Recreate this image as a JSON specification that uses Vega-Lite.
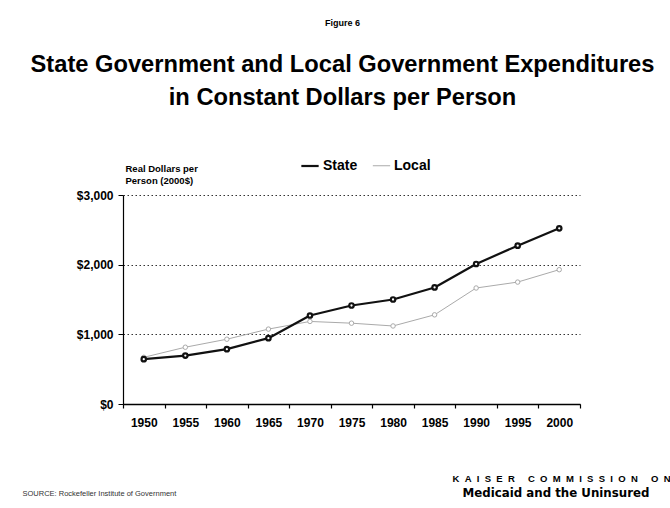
{
  "$schema": "https://vega.github.io/schema/vega-lite/v6.json",
  "width": 457,
  "height": 209,
  "autosize": "none",
  "padding": {"left": 123, "top": 195, "right": 90, "bottom": 104},
  "background": "white",
  "config": {"font": "Liberation Sans", "view": {"stroke": null}},
  "title": {
    "text": "Figure 6",
    "subtitle": ["State Government and Local Government Expenditures", "in Constant Dollars per Person"],
    "fontSize": 9,
    "fontWeight": "bold",
    "color": "black",
    "subtitleFontSize": 23.7,
    "subtitleFontWeight": "bold",
    "subtitleColor": "black",
    "subtitleLineHeight": 33,
    "subtitlePadding": 25,
    "anchor": "middle",
    "dx": -9,
    "offset": 46
  },
  "data": {
    "values": [
      {"year": 1950, "series": "Local", "value": 670},
      {"year": 1955, "series": "Local", "value": 815},
      {"year": 1960, "series": "Local", "value": 930},
      {"year": 1965, "series": "Local", "value": 1075},
      {"year": 1970, "series": "Local", "value": 1185},
      {"year": 1975, "series": "Local", "value": 1160},
      {"year": 1980, "series": "Local", "value": 1120},
      {"year": 1985, "series": "Local", "value": 1280},
      {"year": 1990, "series": "Local", "value": 1665},
      {"year": 1995, "series": "Local", "value": 1750},
      {"year": 2000, "series": "Local", "value": 1928},
      {"year": 1950, "series": "State", "value": 643},
      {"year": 1955, "series": "State", "value": 695},
      {"year": 1960, "series": "State", "value": 787},
      {"year": 1965, "series": "State", "value": 945},
      {"year": 1970, "series": "State", "value": 1270},
      {"year": 1975, "series": "State", "value": 1414},
      {"year": 1980, "series": "State", "value": 1500},
      {"year": 1985, "series": "State", "value": 1673},
      {"year": 1990, "series": "State", "value": 2010},
      {"year": 1995, "series": "State", "value": 2273},
      {"year": 2000, "series": "State", "value": 2522}
    ]
  },
  "layer": [
    {
      "mark": {"type": "line", "strokeJoin": "round", "point": {"filled": false, "fill": "white", "size": 20, "strokeWidth": 1.2}},
      "encoding": {
        "x": {
          "field": "year", "type": "quantitative",
          "scale": {"domain": [1947.5, 2002.5], "nice": false, "zero": false},
          "axis": {
            "orient": "bottom",
            "values": [1950, 1955, 1960, 1965, 1970, 1975, 1980, 1985, 1990, 1995, 2000],
            "format": "d", "ticks": false, "grid": false,
            "domain": true, "domainColor": "black", "domainWidth": 1.5,
            "labelFontSize": 12, "labelFontWeight": "bold", "labelColor": "black", "labelPadding": 13,
            "title": "SOURCE: Rockefeller Institute of Government",
            "titleFontSize": 7.5, "titleFontWeight": "normal", "titleColor": "#333",
            "titleX": -101, "titleY": 89, "titleAlign": "left", "titleBaseline": "middle"
          }
        },
        "y": {
          "field": "value", "type": "quantitative",
          "scale": {"domain": [0, 3000], "nice": false},
          "axis": {
            "orient": "left",
            "values": [0, 1000, 2000, 3000], "format": "$,.0f",
            "grid": true, "gridDash": [1.5, 2.5], "gridColor": "#333", "gridWidth": 1,
            "tickSize": 5, "tickColor": "black", "domainColor": "black", "domainWidth": 1.2,
            "labelFontSize": 12, "labelFontWeight": "bold", "labelColor": "black", "labelPadding": 5,
            "title": ["Real Dollars per", "Person (2000$)"],
            "titleAngle": 0, "titleAlign": "left", "titleX": 2, "titleY": -22, "titleBaseline": "bottom",
            "titleFontSize": 9.5, "titleFontWeight": "bold", "titleLineHeight": 12, "titleColor": "black"
          }
        },
        "color": {
          "field": "series", "type": "nominal",
          "scale": {"domain": ["State", "Local"], "range": ["#111111", "#aaaaaa"]},
          "legend": {
            "orient": "none", "legendX": 177, "legendY": -39, "direction": "horizontal", "title": null,
            "labelFontSize": 14, "labelFontWeight": "bold", "labelColor": "black",
            "symbolType": "stroke", "symbolSize": 300, "symbolStrokeWidth": 2,
            "columnPadding": 12, "labelOffset": 3
          }
        },
        "strokeWidth": {
          "field": "series", "type": "nominal",
          "scale": {"domain": ["State", "Local"], "range": [2.2, 1]},
          "legend": null
        }
      }
    },
    {
      "mark": {"type": "point", "opacity": 0},
      "encoding": {
        "x": {
          "field": "year", "type": "quantitative",
          "axis": {
            "orient": "bottom",
            "values": [1947.5, 1952.5, 1957.5, 1962.5, 1967.5, 1972.5, 1977.5, 1982.5, 1987.5, 1992.5, 1997.5, 2002.5],
            "labels": false, "ticks": true, "tickSize": 4, "tickColor": "black", "tickWidth": 1.2,
            "domain": false, "grid": false,
            "title": "Medicaid and the Uninsured",
            "titleFont": "DejaVu Sans",
            "titleFontSize": 11.8, "titleFontWeight": "bold", "titleColor": "black",
            "titleX": 339, "titleY": 88, "titleAlign": "left", "titleBaseline": "middle"
          }
        },
        "y": {
          "field": "value", "type": "quantitative",
          "axis": {
            "orient": "right",
            "labels": false, "ticks": false, "domain": false, "grid": false,
            "title": "K\u00a0\u00a0A\u00a0\u00a0I\u00a0\u00a0S\u00a0\u00a0E\u00a0\u00a0R\u00a0\u00a0\u00a0\u00a0\u00a0C\u00a0\u00a0O\u00a0\u00a0M\u00a0\u00a0M\u00a0\u00a0I\u00a0\u00a0S\u00a0\u00a0S\u00a0\u00a0I\u00a0\u00a0O\u00a0\u00a0N\u00a0\u00a0\u00a0\u00a0\u00a0O\u00a0\u00a0N",
            "titleAngle": 0, "titleX": -128, "titleY": 283, "titleAlign": "left", "titleBaseline": "middle",
            "titleFontSize": 9.5, "titleFontWeight": "bold", "titleColor": "black", "titleLimit": 400
          }
        }
      }
    }
  ],
  "resolve": {"axis": {"x": "independent", "y": "independent"}}
}
